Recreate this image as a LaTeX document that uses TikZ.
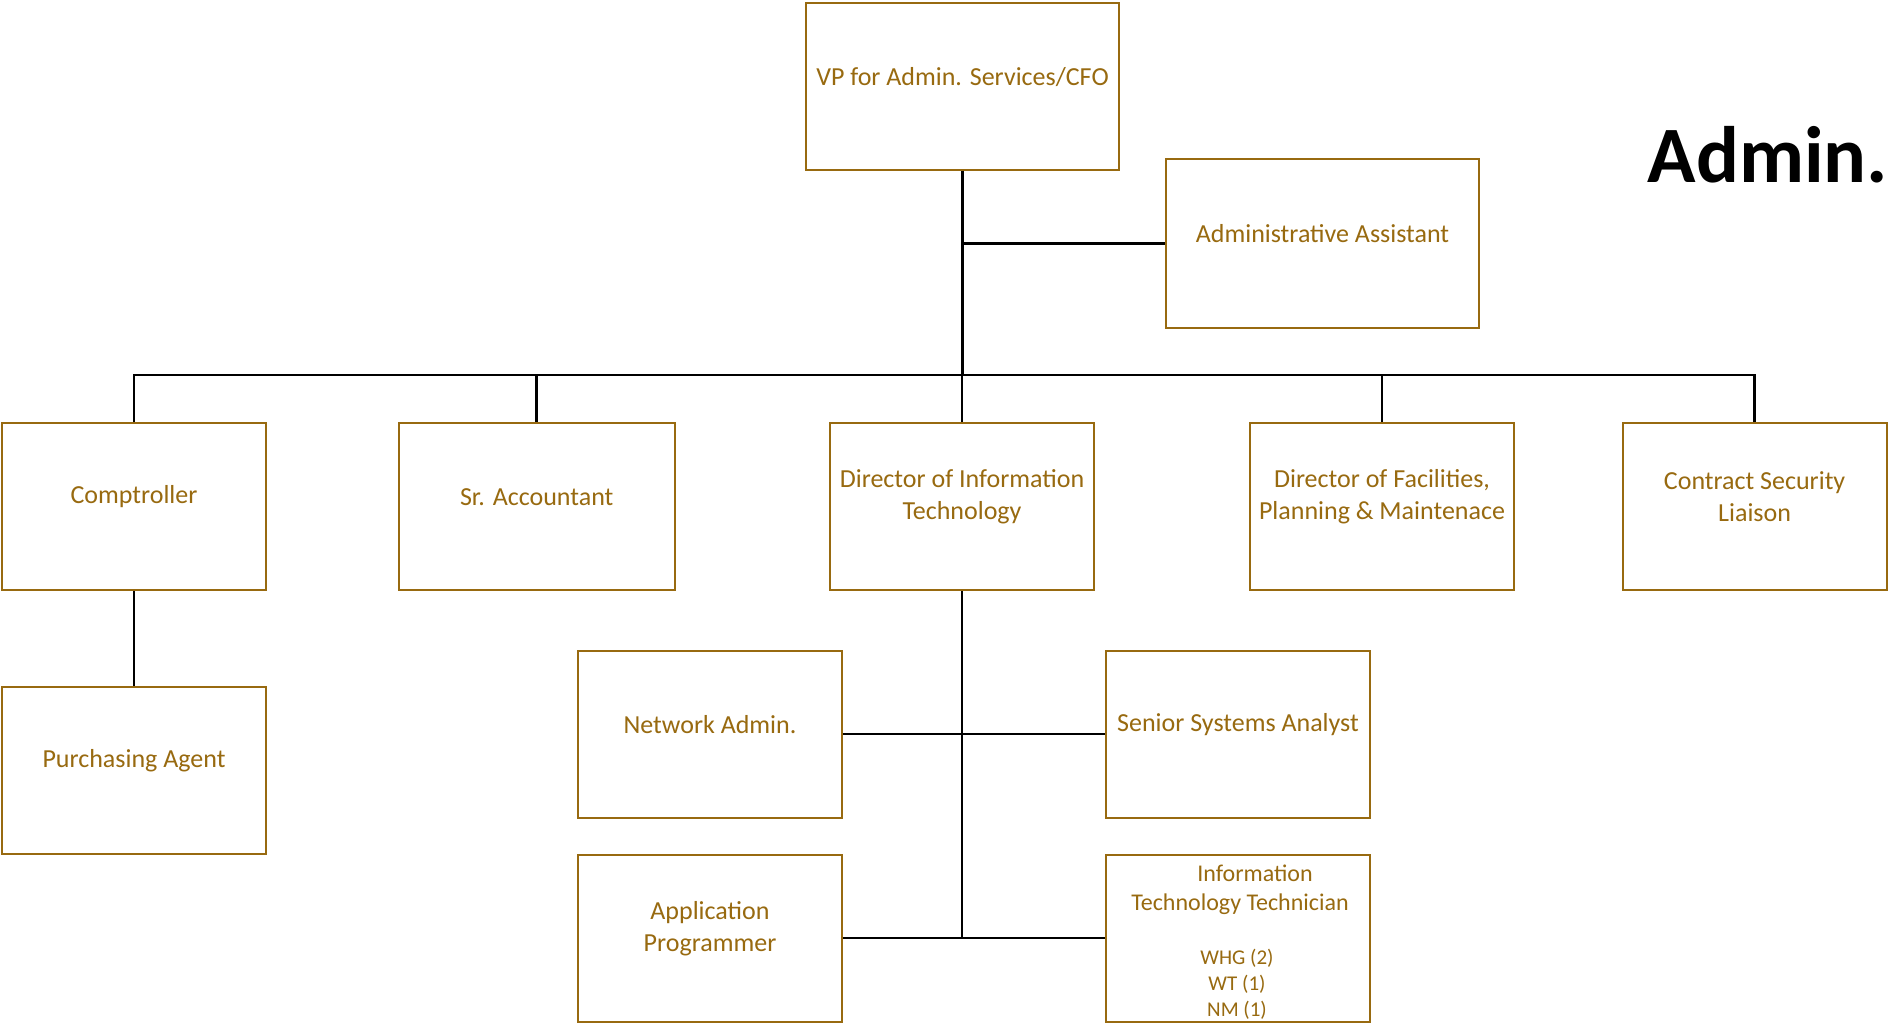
\documentclass[tikz,border=0pt]{standalone}
\usepackage{fontspec}
\setmainfont{Carlito}
\definecolor{gold}{RGB}{152,106,16}
\begin{document}
\begin{tikzpicture}[x=1pt,y=-1pt,
  box/.style={draw=gold, line width=2pt, minimum width=264pt, minimum height=167pt, inner sep=0pt},
  txt/.style={text=gold, font=\fontsize{26}{32}\selectfont, align=center, yshift=9.5pt},
  link/.style={draw, line width=2.7pt}]
\path[fill=white] (0,0) rectangle (1889,1024);
\useasboundingbox (0,0) rectangle (1889,1024);
\node[box, minimum width=313pt, label={[txt]center:VP for Admin. Services/CFO}] (vp) at (962.5,86.5) {};
\node[box, minimum width=313pt, minimum height=169pt, label={[txt]center:Administrative Assistant}] (asst) at (1322.5,243.5) {};
\node[font=\fontsize{80}{96}\selectfont\bfseries, anchor=base] (title) at (1768,183) {Admin.};
\node[box, label={[txt]center:Comptroller}] (comp) at (134,506.5) {};
\node[box, minimum width=276pt, label={[txt]center:Sr. Accountant}] (acct) at (536.7,506.5) {};
\node[box, label={[txt]center:{Director of Information\\Technology}}] (dit) at (962,506.5) {};
\node[box, label={[txt]center:{Director of Facilities,\\Planning \& Maintenace}}] (dfac) at (1382,506.5) {};
\node[box, label={[txt]center:{Contract Security\\Liaison}}] (sec) at (1754.6,506.5) {};
\node[box, label={[txt]center:Purchasing Agent}] (pur) at (134,770) {};
\node[box, label={[txt]center:Network Admin.}] (net) at (710,734) {};
\node[box, label={[txt]center:Senior Systems Analyst}] (ssa) at (1238,734) {};
\node[box, label={[txt]center:{Application\\Programmer}}] (app) at (710,938) {};
\node[box] (itt) at (1238,938) {};
\node[text=gold, font=\fontsize{24}{29}\selectfont, align=center] (ittname) at (1240,889.5) {\hspace*{30pt}Information\\Technology Technician};
\node[text=gold, font=\fontsize{21}{26}\selectfont, align=center] (ittcount) at (1237,984.5) {WHG (2)\\WT (1)\\NM (1)};
\coordinate (bus) at (962,375);
\path[link] (vp.south) -- (vp.south |- bus);
\path[link] (vp.south |- asst.west) -- (asst.west);
\path[link] (comp.north) |- (bus) -| (sec.north);
\foreach \n in {acct,dit,dfac}
  \path[link] (\n.north |- bus) -- (\n.north);
\path[link] (comp) -- (pur);
\path[link] (dit.south) -- (dit.south |- itt.west);
\path[link] (net.east) -- (ssa.west);
\path[link] (app.east) -- (itt.west);
\end{tikzpicture}
\end{document}
